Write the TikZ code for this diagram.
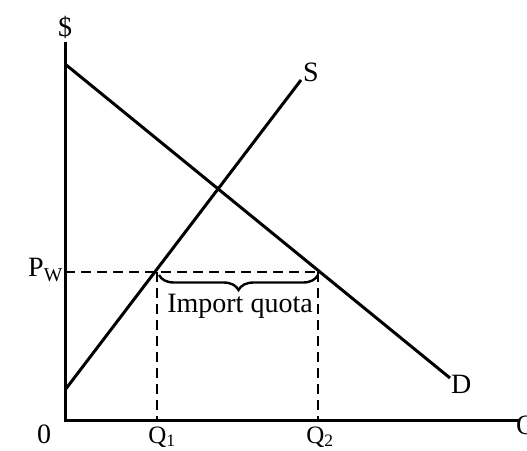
\documentclass[tikz,border=0pt]{standalone}
\usepackage{fontspec}
\setmainfont{Liberation Serif}
\usetikzlibrary{decorations.pathreplacing}

\begin{document}
\begin{tikzpicture}[
            x=1pt, y=-1pt,
            axis/.style={line width=3pt},
            curve/.style={line width=3pt},
            guide/.style={line width=2.8pt,dash pattern=on 10pt off 6pt},
            lbl/.style={inner sep=0pt,font=\fontsize{28}{32}\selectfont},
            qlbl/.style={lbl,anchor=base,font=\fontsize{25}{28}\selectfont},
            quota/.style={decorate,decoration={brace,mirror,amplitude=15pt},line width=2.4pt}
        ]

        \useasboundingbox (0,0) rectangle (527,450);

        % axes
        \coordinate (origin) at (65,420);
        \coordinate (ytop) at (65,42);
        \coordinate (xend) at (520,420);
        \draw[axis] (ytop) -- (origin) -- (xend);

        \node[lbl,anchor=base] (dollar) at (65,36) {\$};
        \node[lbl,anchor=base] (zero) at (44,443) {0};
        \node[lbl,anchor=base west] (qaxis) at (516,434) {Q};

        % supply and demand
        \coordinate (s0) at (65,390);
        \coordinate (s1) at (301,80);
        \coordinate (d0) at (65,64);
        \coordinate (d1) at (450,378);
        \draw[curve] (s0) -- (s1);
        \draw[curve] (d0) -- (d1);
        \node[lbl,anchor=west] (S) at (303,72) {S};
        \node[lbl,anchor=west] (D) at (451,384) {D};

        % world price and quota
        \coordinate (pw) at (65,272);
        \coordinate (e1) at (157,272);
        \coordinate (e2) at (318,272);
        \coordinate (q1) at (157,420);
        \coordinate (q2) at (318,420);
        \draw[guide] (pw) -- (e2);
        \draw[guide] (e1) -- (q1);
        \draw[guide] (e2) -- (q2);

        \node[lbl,anchor=east] (PW) at (63,270) {P\textsubscript{W}};
        \node[qlbl] (Q1) at (162,443) {Q\textsubscript{1}};
        \node[qlbl] (Q2) at (320,443) {Q\textsubscript{2}};

        \draw[quota] ([xshift=2pt,yshift=-3pt]e1) -- ([yshift=-3pt]e2);
        \node[lbl] (import) at (240,306) {Import quota};

    \end{tikzpicture}
\end{document}
